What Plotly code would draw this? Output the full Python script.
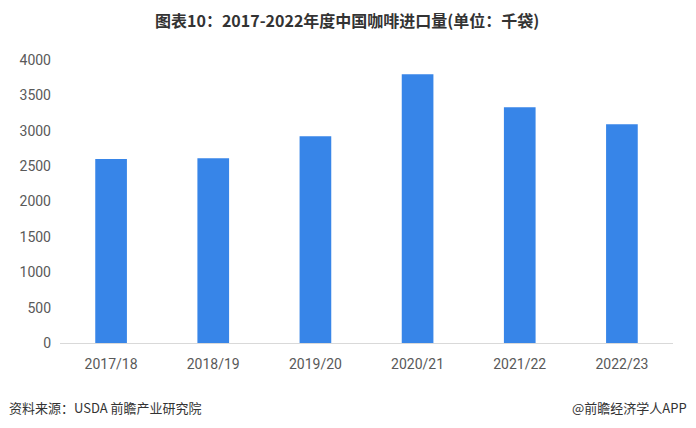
import plotly.graph_objects as go

categories = ["2017/18", "2018/19", "2019/20", "2020/21", "2021/22", "2022/23"]
imports = [2600, 2613, 2924, 3800, 3333, 3092]
y_ticks = [0, 500, 1000, 1500, 2000, 2500, 3000, 3500, 4000]

# The page body has an 8px margin, so the figure is drawn 8px smaller and
# positioned in figure pixel coordinates (reference coords minus 8).
W, H = 688, 420
L, R, T, B = 52, 23, 52, 85
pw, ph = W - L - R, H - T - B


def px_x(x):
    return (x - 8 - L) / pw


def px_y(y):
    return (H - B - (y - 8)) / ph


fig = go.Figure()
fig.add_trace(go.Bar(x=categories, y=imports, marker=dict(color="#3785E8", line=dict(width=0)),
                     width=0.31, hoverinfo="x+y"))

fig.update_layout(
    width=W, height=H,
    margin=dict(l=L, r=R, t=T, b=B),
    paper_bgcolor="white", plot_bgcolor="white",
    showlegend=False,
    font=dict(family="Roboto, Noto Sans CJK SC", color="#595959", size=14),
    xaxis=dict(showgrid=False, showline=True, linecolor="#d9d9d9", linewidth=1,
               ticks="", tickfont=dict(size=14, color="#595959"), ticklabelstandoff=8),
    yaxis=dict(range=[0, 4000], tickvals=y_ticks, showgrid=False, zeroline=False,
               showline=False, ticks="", tickfont=dict(size=14, color="#595959"),
               ticklabelstandoff=8),
    annotations=[
        dict(text="<b>图表10：2017-2022年度中国咖啡进口量(单位：千袋)</b>",
             x=px_x(347), y=px_y(20), xref="paper", yref="paper", showarrow=False,
             xanchor="center", yanchor="middle",
             font=dict(family="Noto Sans CJK SC", size=16, color="#333333")),
        dict(text="资料来源：USDA 前瞻产业研究院", x=px_x(7), y=px_y(407),
             xref="paper", yref="paper", showarrow=False,
             xanchor="left", yanchor="middle",
             font=dict(family="Noto Sans CJK SC", size=13, color="#333333")),
        dict(text="@前瞻经济学人APP", x=px_x(689), y=px_y(407),
             xref="paper", yref="paper", showarrow=False,
             xanchor="right", yanchor="middle",
             font=dict(family="Noto Sans CJK SC", size=13, color="#333333")),
    ],
)

fig.write_html("out.html")
